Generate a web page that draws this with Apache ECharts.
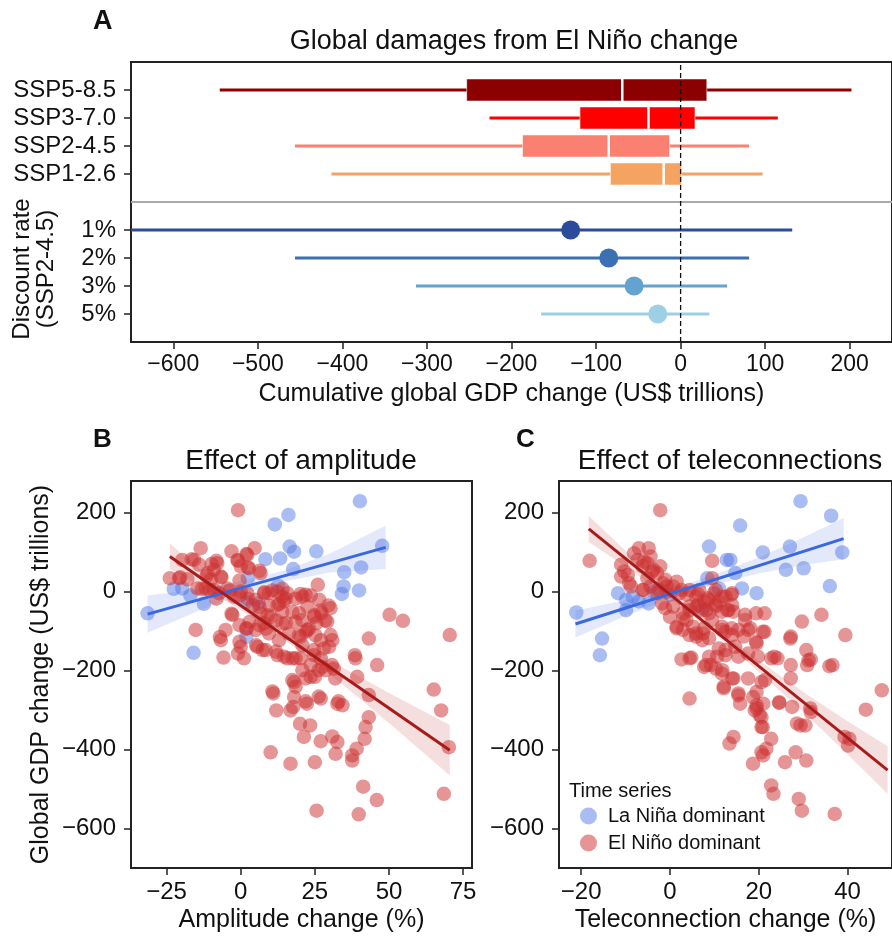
<!DOCTYPE html>
<html><head><meta charset="utf-8">
<script src="https://cdn.jsdelivr.net/npm/echarts@6/dist/echarts.min.js"></script>
<style>html,body{margin:0;padding:0;background:#fff}#c{width:892px;height:936px}</style>
</head><body><div id="c"></div>
<script>
const FONT = '"Liberation Sans", Arial, Helvetica, sans-serif';

// ---------- Panel A data ----------
const rowCategories = [' ', '5%', '3%', '2%', '1%', '  ', 'SSP1-2.6', 'SSP2-4.5', 'SSP3-7.0', 'SSP5-8.5', '   '];
const sspNames = ['SSP5-8.5', 'SSP3-7.0', 'SSP2-4.5', 'SSP1-2.6'];
const sspWhiskerLow = [-545, -226, -456, -413];
const sspQ1 = [-253, -119, -187, -83];
const sspMedian = [-69, -38, -85, -20];
const sspQ3 = [31, 17, -13, 1];
const sspWhiskerHigh = [202, 115, 81, 97];

const rateNames = ['1%', '2%', '3%', '5%'];
const rateLow = [-650, -456, -313, -165];
const rateMid = [-130, -85, -55, -27];
const rateHigh = [132, 81, 55, 34];

const xTicksA = [-600, -500, -400, -300, -200, -100, 0, 100, 200];

// ---------- Panel B data (amplitude) ----------
const ampLaNina = [[-31.4,-55],[-22.6,7],[-17,-10],[-12.4,-31],[-15.9,-155],[1.9,-115],[11.5,170],[16.1,194],[40.2,229],[8.3,82],[13.3,84],[16.5,114],[18,101],[17.7,57],[25.5,102],[34.9,49],[34.7,13],[34.1,-6],[39.9,3],[40.6,61],[47.7,116],[12.6,15],[2.4,34],[1.9,-27],[-19.7,8],[6,-30]];
const ampElNino = [[-0.9,206],[-13.5,110],[-3.1,102],[4.7,110],[2.2,93],[-23.9,34],[-19.7,80],[-15.7,80],[-14,68],[-20.8,34],[-18,31],[-7.9,72],[-9,55],[-11.2,47],[-10.1,30],[-6.7,38],[-1.1,80],[0,64],[2.8,59],[6.7,47],[-14.6,8],[-11.8,8],[-9,4],[-7.3,-4],[-4.5,8],[-2.2,-13],[0,0],[2.2,-4],[5.1,-21],[7.9,-4],[9.5,-4],[12.4,0],[14,-13],[15.7,-4],[-2.8,-59],[-5.1,-97],[-15.2,-97],[-6.7,-123],[-5.8,-167],[-0.9,-157],[1.1,-169],[0,-140],[2,-93],[5.1,-97],[5.6,-140],[8.4,-148],[9.5,-106],[7.9,-80],[6.7,-55],[10.1,-64],[12.4,-34],[14.6,-25],[14,-51],[15.2,-80],[16.3,-106],[12.9,-123],[12.4,-161],[15.7,-169],[17.5,-169],[19.7,-55],[20.8,-13],[21.9,-8],[22.5,-38],[20.8,-72],[21.9,-102],[20.2,-114],[22.5,-97],[26,17],[26.5,-21],[27.2,-55],[24.9,-64],[25.5,-80],[29.2,-76],[30.3,-42],[30.3,-110],[30.9,-123],[29.8,-140],[27,-123],[24.7,-148],[20.2,-169],[23.6,-186],[27,-169],[27.5,-191],[31.4,-195],[25,-216],[21.9,-220],[23.6,-216],[28.6,-199],[18,-229],[18.5,-241],[18,-267],[22.3,-284],[27,-271],[16.8,-301],[17.7,-292],[12,-301],[11,-258],[20,-335],[23.4,-339],[21.3,-368],[27,-379],[30.9,-367],[32.6,-381],[32,-411],[32.6,-284],[34.3,-288],[38.7,-169],[39.3,-216],[43.2,-119],[46,-186],[43.2,-262],[43.2,-318],[42.1,-343],[41.8,-373],[39.1,-398],[37.6,-415],[37.6,-428],[41.3,-494],[45.9,-528],[39.8,-564],[25.6,-555],[25,-432],[16.8,-436],[10.1,-407],[50.2,-59],[54.7,-74],[70.5,-110],[65.1,-248],[67.6,-301],[70.2,-394],[68.5,-512],[31.9,-220],
[-20.4,36],[-16.5,82],[-9.8,70],[-8.2,78],[-11.5,40],[-6.5,36],[-0.9,78],[1.9,95],[2.4,61],[-0.4,28],[6.3,53],[-13.1,7],[-10.4,3],[-8.2,-18],[-3.7,3],[-0.4,-10],[2.4,-18],[4.1,-35],[6.3,-39],[8,-2],[10.7,3],[14.1,7],[15.2,-18],[13,-31],[9.6,-35],[9.1,-60],[11.9,-73],[14.1,-81],[8.5,-94],[6.3,-85],[3,-77],[1.9,-94],[-0.4,-85],[-3.1,-56],[-7,-115],[-0.4,-127],[5.2,-136],[7.4,-148],[11.9,-152],[14.7,-165],[18.5,-169],[20.8,-136],[19.6,-111],[18.5,-77],[17.4,-52],[18.5,-18],[20.2,-6],[23.6,-10],[26.9,-48],[29.6,-35],[28.5,-73],[24.7,-60],[23,-94],[25.2,-111],[28,-144],[24.7,-161],[20.8,-199],[26.3,-199],[30.8,-186],[38.5,-161],[17.4,-224],[10.7,-253],[21.9,-278],[26.3,-266],[33,-278]];
const ampLaNinaFit = [[-31.4, -57], [48.9, 112]];
const ampElNinoFit = [[-23.9, 89], [70.5, -402]];
const ampLaNinaBandX = [-31.4, -15, 0, 15, 30, 48.9];
const ampLaNinaBandLow = [-104, -51, -8, 26, 48, 57];
const ampLaNinaBandHigh = [-10, 5, 26, 54, 96, 167];
const ampElNinoBandX = [-23.9, -10, 0, 10, 20, 35, 50, 70.5];
const ampElNinoBandLow = [57, -1, -47, -97, -151, -239, -333, -466];
const ampElNinoBandHigh = [121, 35, -23, -77, -127, -195, -257, -338];
const xTicksB = [-25, 0, 25, 50, 75];

// ---------- Panel C data (teleconnections) ----------
const teleLaNina = [[-21.1,-53],[-15.3,-119],[-15.8,-161],[-11.7,-4],[-9.9,-21],[-9.9,-47],[-8.4,-13],[-7,-25],[-4.8,-30],[8.8,114],[12.8,80],[13.6,80],[14.7,47],[15.8,167],[16.2,8],[19.5,-4],[20.9,99],[26.1,55],[27,114],[29.4,229],[30.1,59],[36,14],[36.3,192],[38.8,99],[8.4,34],[11,8],[7.3,-42],[0,-8],[-3.7,0]];
const teleElNino = [[-2.2,206],[-18.1,78],[-7,110],[-4.8,110],[9.5,78],[9.5,34],[-11,68],[-10.3,51],[-11,38],[-9.2,21],[-8.1,97],[-7.3,80],[-6.2,64],[-5.1,72],[-4.4,89],[-3.7,55],[-2.9,47],[-2.2,64],[-1.5,21],[-0.7,13],[-4.4,13],[-5.9,4],[-2.9,-4],[-1.1,-42],[0.7,13],[2.2,-4],[3.7,-8],[4.4,4],[5.9,-13],[6.6,4],[7.7,-25],[8.8,-21],[9.9,-4],[11,-25],[12.5,-13],[13.8,-8],[13.2,-47],[14.3,-51],[11.7,-51],[10.3,-38],[8.8,-55],[7.3,-47],[5.9,-38],[4.4,-38],[2.9,-55],[3.7,-72],[1.5,-93],[2.9,-97],[4.4,-110],[5.9,-114],[7.3,-123],[5.9,-106],[7.7,-93],[9.5,-72],[11.7,-89],[12.5,-102],[13.9,-93],[15.4,-97],[16.9,-72],[18.1,-93],[16.6,-114],[14.7,-140],[12.5,-148],[10.6,-165],[8.8,-165],[10.3,-195],[7.7,-191],[11.7,-208],[12.1,-241],[14.3,-220],[15.4,-263],[15.8,-284],[17.6,-220],[18.7,-267],[19.1,-301],[19.5,-288],[20.2,-313],[20.6,-343],[21,-284],[21.4,-224],[19.8,-165],[19.4,-127],[21.3,-102],[19.4,-55],[21.3,-55],[22.8,-169],[24.2,-169],[27.2,-186],[27.2,-220],[27.5,-292],[24.6,-282],[29.4,-339],[30.5,-339],[31.7,-305],[30.7,-148],[31.7,-172],[30.9,-186],[29.7,-76],[34.1,-59],[27.1,-119],[35.9,-189],[39.5,-110],[44.1,-299],[47.7,-250],[39.3,-368],[40.1,-390],[40.4,-373],[22.8,-373],[21.7,-398],[20.6,-407],[21,-415],[18.7,-436],[14.3,-368],[13.4,-385],[4.4,-271],[2.6,-172],[4.8,-167],[9.2,-186],[25.9,-432],[28.3,-407],[30.7,-428],[22.8,-491],[23.3,-512],[29,-525],[29.7,-555],[37.1,-563],[0.7,-38],[0,-64],
[-9.5,42],[-8.8,13],[-6.2,4],[-5.9,76],[-4,51],[-5.1,34],[-1.1,30],[-2.6,4],[-0.7,0],[-1.8,-30],[1.5,25],[2.6,4],[6.3,-7],[8.5,-17],[10.3,4],[11.8,-13],[14,-4],[14,-34],[12.9,-47],[10.3,-34],[8.1,-47],[6.3,-34],[4.4,-47],[3,-68],[1.5,-89],[5.2,-89],[7.4,-106],[8.8,-118],[11.8,-97],[14,-110],[17.6,-97],[16.9,-59],[20.9,-102],[19.5,-131],[17.6,-157],[15.4,-165],[12.5,-161],[11,-144],[8.1,-186],[4.4,-169],[11.8,-199],[14,-220],[20.6,-229],[23.5,-165],[27.2,-114],[31.2,-174],[36.6,-186],[15.4,-258],[19.5,-254],[24.6,-280],[31.6,-296],[20.9,-343],[20.6,-318],[19.5,-296],[12.1,-245],[28.6,-334]];
const teleLaNinaFit = [[-21.3, -82], [39.1, 134]];
const teleElNinoFit = [[-18.3, 158.6], [49, -452]];
const teleLaNinaBandX = [-21.3, -10, 0, 10, 20, 30, 39.1];
const teleLaNinaBandLow = [-116, -62, -18, 18, 46, 67, 82];
const teleLaNinaBandHigh = [-48, -22, 6, 42, 86, 137, 186];
const teleElNinoBandX = [-18.3, -10, 0, 10, 20, 30, 40, 49];
const teleElNinoBandLow = [125.6, 63.3, -17.4, -107.1, -202.8, -304.5, -412.2, -511.8];
const teleElNinoBandHigh = [191.6, 103.3, 2.6, -89.1, -174.8, -254.5, -328.2, -391.8];
const xTicksC = [-20, 0, 20, 40];
const yTicksBC = [-600, -400, -200, 0, 200];

const seriesNames = ['La Niña dominant', 'El Niño dominant'];

// ---------- styles ----------
const sspColors = ['#8b0000', '#ff0000', '#fa8072', '#f4a460'];
const rateColors = ['#2d4b9b', '#3b70b3', '#64a3cf', '#9dcfe5'];
const BLUE_PT = 'rgba(78,118,228,0.6)';
const RED_PT = 'rgba(204,48,48,0.64)';
const BLUE_LINE = '#3a68de';
const RED_LINE = '#a81b1b';
const BLUE_BAND = 'rgba(78,118,228,0.16)';
const RED_BAND = 'rgba(190,50,50,0.16)';
const TXT = '#111';
const minus = v => String(v).replace('-', '\u2212');
const rowIndex = name => rowCategories.indexOf(name);

const chart = echarts.init(document.getElementById('c'), null, {renderer: 'canvas'});

function boxItem(params, api) {
  const y = api.value(5);
  const c0 = api.coord([0, 0]), c1 = api.coord([0, 1]);
  const step = Math.abs(c1[1] - c0[1]);
  const h = step * 0.79;
  const wl = api.coord([api.value(0), y]);
  const q1 = api.coord([api.value(1), y]);
  const md = api.coord([api.value(2), y]);
  const q3 = api.coord([api.value(3), y]);
  const wh = api.coord([api.value(4), y]);
  const col = sspColors[params.dataIndex];
  return {type: 'group', children: [
    {type: 'line', shape: {x1: wl[0], y1: wl[1], x2: wh[0], y2: wh[1]}, style: {stroke: col, lineWidth: 3}},
    {type: 'rect', shape: {x: q1[0], y: q1[1] - h / 2, width: q3[0] - q1[0], height: h}, style: {fill: col, stroke: 'rgba(255,255,255,0.55)', lineWidth: 1}},
    {type: 'line', shape: {x1: md[0], y1: md[1] - h / 2, x2: md[0], y2: md[1] + h / 2}, style: {stroke: '#fff', lineWidth: 2.5}}
  ]};
}
function rateItem(params, api) {
  const y = api.value(3);
  const lo = api.coord([api.value(0), y]);
  const mid = api.coord([api.value(1), y]);
  const hi = api.coord([api.value(2), y]);
  const col = rateColors[params.dataIndex];
  return {type: 'group', children: [
    {type: 'line', shape: {x1: lo[0], y1: lo[1], x2: hi[0], y2: hi[1]}, style: {stroke: col, lineWidth: 3}},
    {type: 'circle', shape: {cx: mid[0], cy: mid[1], r: 9.5}, style: {fill: col}}
  ]};
}
function bandSeries(xs, lows, highs, color, axisIdx) {
  return {
    type: 'custom', xAxisIndex: axisIdx, yAxisIndex: axisIdx, z: 1, silent: true,
    data: [[xs[0], lows[0]]],
    renderItem: function (params, api) {
      const pts = [];
      for (let i = 0; i < xs.length; i++) pts.push(api.coord([xs[i], highs[i]]));
      for (let i = xs.length - 1; i >= 0; i--) pts.push(api.coord([xs[i], lows[i]]));
      return {type: 'polygon', shape: {points: pts}, style: {fill: color}};
    }
  };
}
function scatterSeries(name, data, color, axisIdx, z) {
  return {type: 'scatter', name: name, data: data, xAxisIndex: axisIdx, yAxisIndex: axisIdx,
    symbolSize: 14.5, z: z, itemStyle: {color: color}, emphasis: {disabled: true}};
}
function fitSeries(data, color, axisIdx) {
  return {type: 'line', data: data, xAxisIndex: axisIdx, yAxisIndex: axisIdx, z: 6,
    showSymbol: false, lineStyle: {color: color, width: 3}, silent: true};
}
const tickStyle = {show: true, length: 7, lineStyle: {color: '#222', width: 1.5}};
const hiddenLine = {show: false, onZero: false};
const gridBorder = {show: true, borderColor: '#222', borderWidth: 2, backgroundColor: 'transparent'};

const option = {
  animation: false,
  backgroundColor: '#fff',
  textStyle: {fontFamily: FONT, color: TXT},
  title: [
    {text: 'A', left: 93, top: 8, padding: 0, textStyle: {fontFamily: FONT, fontSize: 27, fontWeight: 'bold', color: TXT}},
    {text: 'Global damages from El Niño change', left: 514, top: 28, padding: 0, textAlign: 'center', textStyle: {fontFamily: FONT, fontSize: 27, fontWeight: 'normal', color: TXT}},
    {text: 'B', left: 93, top: 427, padding: 0, textStyle: {fontFamily: FONT, fontSize: 26, fontWeight: 'bold', color: TXT}},
    {text: 'Effect of amplitude', left: 301, top: 447, padding: 0, textAlign: 'center', textStyle: {fontFamily: FONT, fontSize: 28, fontWeight: 'normal', color: TXT}},
    {text: 'C', left: 516, top: 427, padding: 0, textStyle: {fontFamily: FONT, fontSize: 26, fontWeight: 'bold', color: TXT}},
    {text: 'Effect of teleconnections', left: 730, top: 447, padding: 0, textAlign: 'center', textStyle: {fontFamily: FONT, fontSize: 28, fontWeight: 'normal', color: TXT}},
    {text: 'Time series', left: 569, top: 781, padding: 0, textStyle: {fontFamily: FONT, fontSize: 20, fontWeight: 'normal', color: TXT}}
  ],
  legend: {
    data: seriesNames, orient: 'vertical', left: 580, top: 806, padding: 0,
    itemWidth: 17, itemHeight: 17, itemGap: 7, icon: 'circle',
    textStyle: {fontFamily: FONT, fontSize: 20, color: TXT, padding: [0, 0, 0, 6]},
    selectedMode: false
  },
  graphic: [
    {type: 'text', x: 34, y: 269, rotation: Math.PI / 2, silent: true,
     style: {text: 'Discount rate\n(SSP2-4.5)', font: '24px ' + FONT, fill: TXT, textAlign: 'center', textVerticalAlign: 'middle', lineHeight: 24}}
  ],
  grid: [
    Object.assign({left: 131, top: 62, width: 768, height: 280}, gridBorder),
    Object.assign({left: 131, top: 481, width: 341, height: 387}, gridBorder),
    Object.assign({left: 559, top: 481, width: 341, height: 387}, gridBorder)
  ],
  xAxis: [
    {type: 'value', gridIndex: 0, min: -650, max: 250, splitLine: {show: false}, axisLine: hiddenLine,
     axisTick: Object.assign({customValues: xTicksA}, tickStyle),
     axisLabel: {customValues: xTicksA, formatter: minus, fontSize: 23, color: TXT, fontFamily: FONT, margin: 11},
     name: 'Cumulative global GDP change (US$ trillions)', nameLocation: 'middle', nameGap: 40,
     nameTextStyle: {fontSize: 25, color: TXT, fontFamily: FONT}},
    {type: 'value', gridIndex: 1, min: -37, max: 78, splitLine: {show: false}, axisLine: hiddenLine,
     axisTick: Object.assign({customValues: xTicksB}, tickStyle),
     axisLabel: {customValues: xTicksB, formatter: minus, fontSize: 24, color: TXT, fontFamily: FONT, margin: 12},
     name: 'Amplitude change (%)', nameLocation: 'middle', nameGap: 40,
     nameTextStyle: {fontSize: 25, color: TXT, fontFamily: FONT}},
    {type: 'value', gridIndex: 2, min: -25, max: 50, splitLine: {show: false}, axisLine: hiddenLine,
     axisTick: Object.assign({customValues: xTicksC}, tickStyle),
     axisLabel: {customValues: xTicksC, formatter: minus, fontSize: 24, color: TXT, fontFamily: FONT, margin: 12},
     name: 'Teleconnection change (%)', nameLocation: 'middle', nameGap: 40,
     nameTextStyle: {fontSize: 25, color: TXT, fontFamily: FONT}}
  ],
  yAxis: [
    {type: 'category', gridIndex: 0, data: rowCategories, boundaryGap: false, axisLine: hiddenLine,
     splitLine: {show: false},
     axisTick: Object.assign({interval: (i, v) => String(v).trim() !== ''}, tickStyle),
     axisLabel: {interval: 0, fontSize: 24, color: TXT, fontFamily: FONT, margin: 15}},
    {type: 'value', gridIndex: 1, min: -700, max: 280, splitLine: {show: false}, axisLine: hiddenLine,
     axisTick: Object.assign({customValues: yTicksBC}, tickStyle),
     axisLabel: {customValues: yTicksBC, formatter: minus, fontSize: 24, color: TXT, fontFamily: FONT, margin: 15},
     name: 'Global GDP change (US$ trillions)', nameLocation: 'middle', nameGap: 77,
     nameTextStyle: {fontSize: 25, color: TXT, fontFamily: FONT}},
    {type: 'value', gridIndex: 2, min: -700, max: 280, splitLine: {show: false}, axisLine: hiddenLine,
     axisTick: Object.assign({customValues: yTicksBC}, tickStyle),
     axisLabel: {customValues: yTicksBC, formatter: minus, fontSize: 24, color: TXT, fontFamily: FONT, margin: 15}}
  ],
  series: [
    {type: 'custom', name: 'ssp', xAxisIndex: 0, yAxisIndex: 0, z: 2, silent: true,
     dimensions: ['wl', 'q1', 'med', 'q3', 'wh', 'row'],
     data: sspNames.map((n, i) => [sspWhiskerLow[i], sspQ1[i], sspMedian[i], sspQ3[i], sspWhiskerHigh[i], rowIndex(n)]),
     encode: {x: [0, 1, 2, 3, 4], y: 5}, renderItem: boxItem},
    {type: 'custom', name: 'rate', xAxisIndex: 0, yAxisIndex: 0, z: 2, silent: true,
     dimensions: ['lo', 'mid', 'hi', 'row'],
     data: rateNames.map((n, i) => [rateLow[i], rateMid[i], rateHigh[i], rowIndex(n)]),
     encode: {x: [0, 1, 2], y: 3}, renderItem: rateItem},
    {type: 'line', name: 'zero', xAxisIndex: 0, yAxisIndex: 0, z: 8, silent: true, showSymbol: false,
     data: [[0, 0], [0, rowCategories.length - 1]],
     lineStyle: {color: '#111', width: 1.3, type: [5, 3]}},
    {type: 'line', name: 'separator', xAxisIndex: 0, yAxisIndex: 0, z: 1, silent: true, showSymbol: false,
     data: [[-650, rowIndex('  ')], [250, rowIndex('  ')]],
     lineStyle: {color: '#aaa', width: 2}},

    bandSeries(ampLaNinaBandX, ampLaNinaBandLow, ampLaNinaBandHigh, BLUE_BAND, 1),
    bandSeries(ampElNinoBandX, ampElNinoBandLow, ampElNinoBandHigh, RED_BAND, 1),
    scatterSeries(seriesNames[0], ampLaNina, BLUE_PT, 1, 3),
    scatterSeries(seriesNames[1], ampElNino, RED_PT, 1, 4),
    fitSeries(ampLaNinaFit, BLUE_LINE, 1),
    fitSeries(ampElNinoFit, RED_LINE, 1),

    bandSeries(teleLaNinaBandX, teleLaNinaBandLow, teleLaNinaBandHigh, BLUE_BAND, 2),
    bandSeries(teleElNinoBandX, teleElNinoBandLow, teleElNinoBandHigh, RED_BAND, 2),
    scatterSeries(seriesNames[0], teleLaNina, BLUE_PT, 2, 3),
    scatterSeries(seriesNames[1], teleElNino, RED_PT, 2, 4),
    fitSeries(teleLaNinaFit, BLUE_LINE, 2),
    fitSeries(teleElNinoFit, RED_LINE, 2)
  ]
};
chart.setOption(option);
</script>
</body></html>
